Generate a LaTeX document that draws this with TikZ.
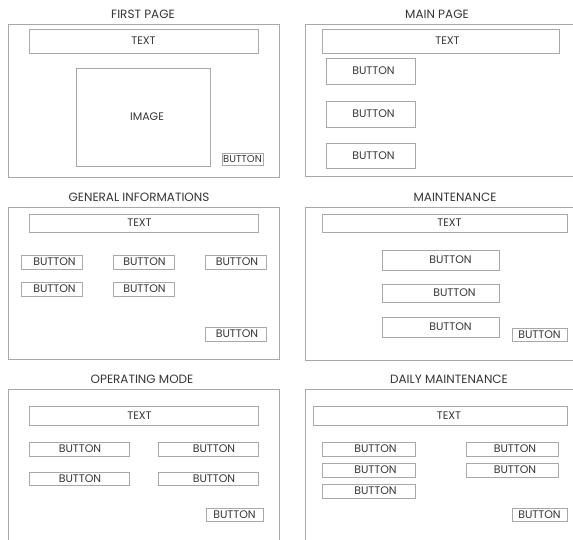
\documentclass[tikz,border=0pt]{standalone}
\usepackage{fontspec}
\setmainfont{Poppins}
\usetikzlibrary{fit}
\definecolor{edge}{HTML}{A8A8A8}
\definecolor{ink}{HTML}{363636}
\tikzset{
  frame/.style={draw=edge, line width=0.9pt, inner sep=0pt},
  uibox/.style={draw=edge, line width=0.9pt, inner sep=0pt},
  caption/.style={text=ink, font=\fontsize{12}{14}\selectfont, inner sep=0pt},
  uitext/.style={text=ink, font=\fontsize{11}{13}\selectfont, inner sep=0pt},
}
% \place[text options]{name}{top-left}{bottom-right}{label}
\newcommand\place[5][]{%
  \node[uibox, fit={(#3) (#4)}] (#2) {};
  \node[uitext, #1] (#2-t) at (#2.center) {#5};
}
\begin{document}
\begin{tikzpicture}[x=1pt, y=-1pt]
\clip (0,0) rectangle (573,539);

% ---------- FIRST PAGE ----------
\node[caption] (t1) at (143,14) {FIRST PAGE};
\node[frame, fit={(8,24) (279,177)}] (f1) {};
\place{fp-text}{29,29}{258,53}{TEXT}
\place[xshift=4pt]{fp-img}{76,68}{210,166}{IMAGE}
\place[font=\fontsize{10}{12}\selectfont]{fp-b1}{222,153}{263,165}{BUTTON}

% ---------- MAIN PAGE ----------
\node[caption] (t2) at (437,14) {MAIN PAGE};
\node[frame, fit={(305,24) (600,176)}] (f2) {};
\place[xshift=7pt]{mp-text}{322,29}{559,53}{TEXT}
\place[xshift=3pt]{mp-b1}{326,58}{415,84}{BUTTON}
\place[xshift=3pt]{mp-b2}{326,101}{415,127}{BUTTON}
\place[xshift=3pt]{mp-b3}{326,143}{415,168}{BUTTON}

% ---------- GENERAL INFORMATIONS ----------
\node[caption] (t3) at (139,197) {GENERAL INFORMATIONS};
\node[frame, fit={(8,207) (279,359)}] (f3) {};
\place[xshift=-4pt]{gi-text}{29,214}{258,232}{TEXT}
\place[xshift=3pt]{gi-b1}{21,255}{82,269}{BUTTON}
\place[xshift=1pt]{gi-b2}{113,255}{174,269}{BUTTON}
\place[xshift=1.5pt]{gi-b3}{205,255}{266,269}{BUTTON}
\place[xshift=3pt]{gi-b4}{21,282}{82,296}{BUTTON}
\place[xshift=1pt]{gi-b5}{113,282}{174,296}{BUTTON}
\place[xshift=1.5pt]{gi-b6}{205,327}{266,341}{BUTTON}

% ---------- MAINTENANCE ----------
\node[caption] (t4) at (455,197) {MAINTENANCE};
\node[frame, fit={(305,207) (600,360)}] (f4) {};
\place[xshift=5pt]{mt-text}{322,214}{567,232}{TEXT}
\place[xshift=10pt]{mt-b1}{382,250}{499,270}{BUTTON}
\place[xshift=14pt]{mt-b2}{382,284}{499,302}{BUTTON}
\place[xshift=10pt]{mt-b3}{382,317}{499,337}{BUTTON}
\place{mt-b4}{512,328}{567,341}{BUTTON}

% ---------- OPERATING MODE ----------
\node[caption] (t5) at (142,379) {OPERATING MODE};
\node[frame, fit={(8,389) (279,600)}] (f5) {};
\place[xshift=-4pt]{om-text}{29,406}{258,425}{TEXT}
\place[xshift=1pt]{om-b1}{29,442}{129,456}{BUTTON}
\place[xshift=6pt]{om-b2}{158,442}{258,456}{BUTTON}
\place[xshift=1pt]{om-b3}{29,472}{129,485}{BUTTON}
\place[xshift=6pt]{om-b4}{158,472}{258,485}{BUTTON}
\place{om-b5}{206,508}{263,521}{BUTTON}

% ---------- DAILY MAINTENANCE ----------
\node[caption] (t6) at (449,379) {DAILY MAINTENANCE};
\node[frame, fit={(305,389) (600,600)}] (f6) {};
\place[xshift=9pt]{dm-text}{313,406}{567,425}{TEXT}
\place[xshift=7pt]{dm-b1}{322,442}{415,456}{BUTTON}
\place[xshift=7pt]{dm-b2}{322,463}{415,477}{BUTTON}
\place[xshift=7pt]{dm-b3}{322,484}{415,498}{BUTTON}
\place[xshift=3pt]{dm-b4}{466,442}{558,456}{BUTTON}
\place[xshift=3pt]{dm-b5}{466,463}{558,477}{BUTTON}
\place{dm-b6}{512,508}{567,521}{BUTTON}
\end{tikzpicture}
\end{document}
